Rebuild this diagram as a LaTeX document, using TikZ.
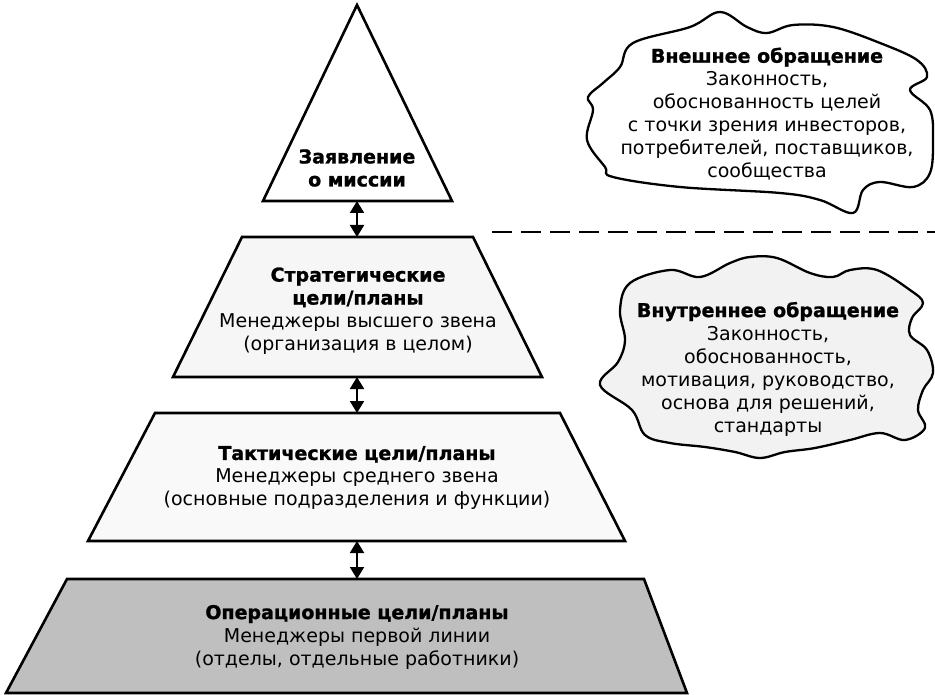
\documentclass[tikz,border=0pt]{standalone}
\usepackage{fontspec}
\setmainfont[BoldFeatures={FakeBold=1.2}]{DejaVu Sans}
\usetikzlibrary{arrows.meta}
\tikzset{
  lvl/.style={draw, line width=2.6pt, line join=miter},
  cloud/.style={draw, line width=2.3pt},
  lbl/.style={align=center, inner sep=0pt, font=\fontsize{19}{23}\selectfont},
  link/.style={line width=2pt, {Triangle[length=12pt,width=14pt]}-{Triangle[length=12pt,width=14pt]}},
}
\begin{document}
\begin{tikzpicture}[x=1pt,y=-1pt]
        \useasboundingbox (0,0) rectangle (935,695);

        % миссия
        \draw[lvl, fill=white] (357,5) -- (452,201) -- (263,201) -- cycle;
        \node[lbl] (mission) at (357,168) {\textbf{Заявление}\\\textbf{о миссии}};

        % стратегический уровень
        \draw[lvl, fill=gray!7] (242,237) -- (473,237) -- (542,377) -- (173,377) -- cycle;
        \node[lbl] (strat) at (358,311) {\textbf{Стратегические}\\\textbf{цели/планы}\\Менеджеры высшего звена\\(организация в целом)};

        % тактический уровень
        \draw[lvl, fill=gray!5] (155,413) -- (560,413) -- (625,541) -- (88,541) -- cycle;
        \node[lbl] (tact) at (357,478) {\textbf{Тактические цели/планы}\\Менеджеры среднего звена\\(основные подразделения и функции)};

        % операционный уровень
        \draw[lvl, fill=gray!50] (67,579) -- (644,579) -- (687,693) -- (6,693) -- cycle;
        \node[lbl] (oper) at (357,637) {\textbf{Операционные цели/планы}\\Менеджеры первой линии\\(отделы, отдельные работники)};

        % стрелки
        \coordinate (mission-b) at (357,201);
        \coordinate (strat-t) at (357,237);
        \coordinate (strat-b) at (357,377);
        \coordinate (tact-t) at (357,413);
        \coordinate (tact-b) at (357,541);
        \coordinate (oper-t) at (357,579);
        \draw[link] (mission-b) -- (strat-t);
        \draw[link] (strat-b) -- (tact-t);
        \draw[link] (tact-b) -- (oper-t);

        % граница
        \coordinate (sep-l) at (492,232);
        \coordinate (sep-r) at (935,232);
        \draw[line width=2.2pt, dash pattern=on 20pt off 9pt] (sep-l) -- (sep-r);

        % внешнее облако
        \draw[cloud, fill=white] plot[smooth cycle, tension=0.6] coordinates {
          (633,43) (690,27) (720,12) (747,27) (767,33) (793,25) (833,27) (880,43)
          (917,60) (927,77) (910,90) (930,110) (933,140) (930,173) (913,187)
          (880,182) (863,190) (853,213) (820,200) (780,193) (680,187) (613,177)
          (605,167) (587,140) (593,110) (588,97) (603,83) (620,67)};
        \node[lbl] (ext) at (767,114) {\textbf{Внешнее обращение}\\Законность,\\обоснованность целей\\с точки зрения инвесторов,\\потребителей, поставщиков,\\сообщества};

        % внутреннее облако
        \draw[cloud, fill=gray!10] plot[smooth cycle, tension=0.6] coordinates {
          (630,283) (670,270) (700,277) (730,263) (750,257) (777,258) (810,273)
          (833,277) (850,270) (877,270) (910,290) (923,303) (912,318) (910,335)
          (927,350) (933,373) (923,390) (918,410) (925,428) (905,440) (880,433)
          (850,440) (815,448) (785,452) (760,458) (735,452) (705,447) (670,443)
          (645,435) (632,410) (600,385) (618,362) (625,340) (620,310)};
        \node[lbl] (int) at (768,369) {\textbf{Внутреннее обращение}\\Законность,\\обоснованность,\\мотивация, руководство,\\основа для решений,\\стандарты};
\end{tikzpicture}
\end{document}
